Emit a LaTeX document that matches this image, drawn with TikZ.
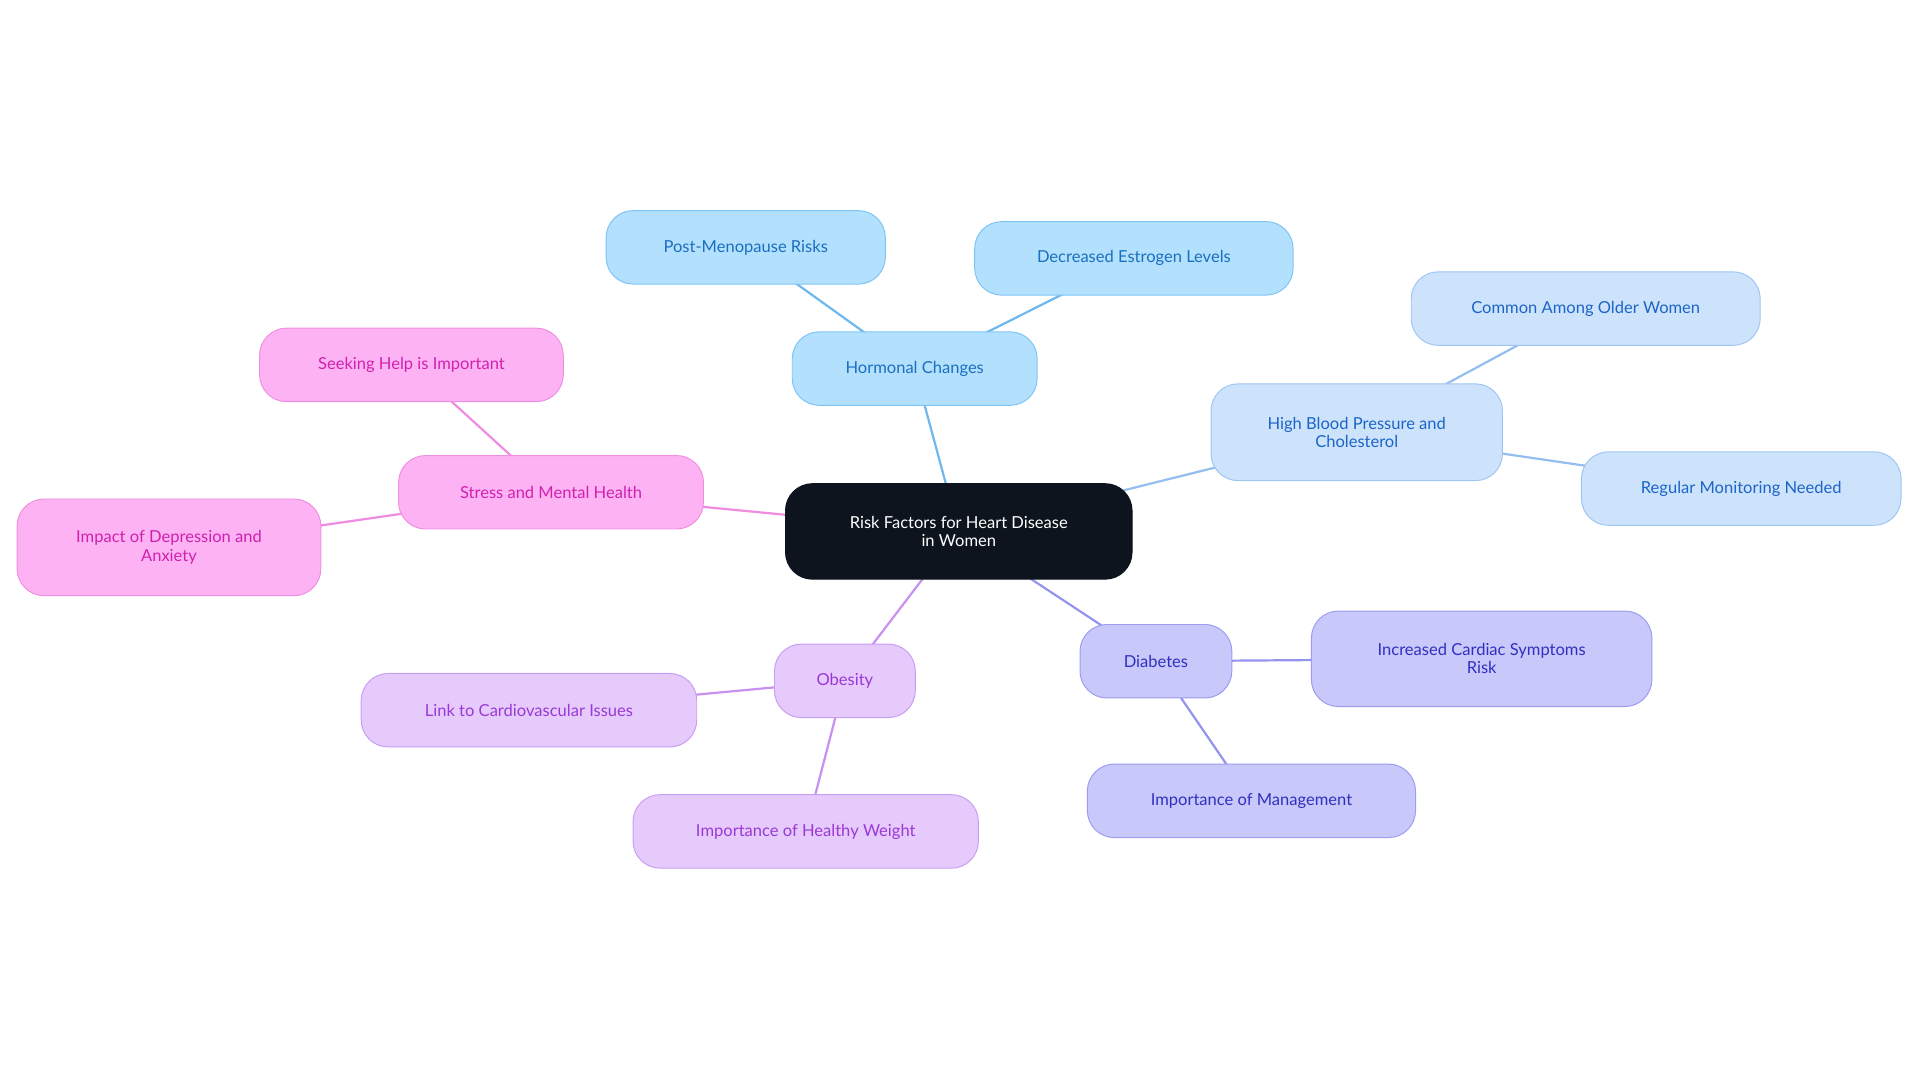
\documentclass[tikz,border=0pt]{standalone}
\usepackage{fontspec}
\setmainfont{Lato}
\usetikzlibrary{backgrounds}
\definecolor{hF}{HTML}{B3E0FD}\definecolor{hD}{HTML}{7EC4F5}\definecolor{hT}{HTML}{1A6FC0}\definecolor{hE}{HTML}{6CB8EF}
\definecolor{bF}{HTML}{CCE3FB}\definecolor{bD}{HTML}{9EC6F2}\definecolor{bT}{HTML}{1D64C8}\definecolor{bE}{HTML}{94BEF0}
\definecolor{dF}{HTML}{C8C8FB}\definecolor{dD}{HTML}{9C9CF0}\definecolor{dT}{HTML}{3030C0}\definecolor{dE}{HTML}{9494F0}
\definecolor{oF}{HTML}{E6CAFC}\definecolor{oD}{HTML}{C89EF2}\definecolor{oT}{HTML}{9A38D6}\definecolor{oE}{HTML}{C890F0}
\definecolor{sF}{HTML}{FDB3F3}\definecolor{sD}{HTML}{F08FE0}\definecolor{sT}{HTML}{D020B0}\definecolor{sE}{HTML}{F08CE0}
\definecolor{cF}{HTML}{0D141E}
\tikzset{
 box/.style={rectangle,rounded corners=22pt,line width=0.8pt,align=center,font=\fontsize{13.5}{15}\selectfont,inner sep=0pt,minimum height=60pt},
 hb/.style={box,fill=hF,draw=hD,text=hT},
 bb/.style={box,fill=bF,draw=bD,text=bT},
 db/.style={box,fill=dF,draw=dD,text=dT},
 ob/.style={box,fill=oF,draw=oD,text=oT},
 sb/.style={box,fill=sF,draw=sD,text=sT},
 ed/.style={line width=1.8pt}
}
\begin{document}
\begin{tikzpicture}[x=1pt,y=-1pt]
\useasboundingbox (0,0) rectangle (1568,884);
\node[box,fill=cF,draw=cF,text=white,minimum width=283pt,minimum height=78pt] (c) at (783,434) {Risk Factors for Heart Disease\\in Women};
\node[hb,minimum width=200pt] (h) at (747,301) {Hormonal Changes};
\node[hb,minimum width=228pt] (h1) at (609,202) {Post-Menopause Risks};
\node[hb,minimum width=260pt] (h2) at (926,211) {Decreased Estrogen Levels};
\node[bb,minimum width=238pt,minimum height=79pt] (b) at (1108,353) {High Blood Pressure and\\Cholesterol};
\node[bb,minimum width=285pt] (b1) at (1295,252) {Common Among Older Women};
\node[bb,minimum width=261pt] (b2) at (1422,399) {Regular Monitoring Needed};
\node[db,minimum width=124pt] (d) at (944,540) {Diabetes};
\node[db,minimum width=278pt,minimum height=78pt] (d1) at (1210,538) {Increased Cardiac Symptoms\\Risk};
\node[db,minimum width=268pt] (d2) at (1022,654) {Importance of Management};
\node[ob,minimum width=115pt] (o) at (690,556) {Obesity};
\node[ob,minimum width=274pt] (o1) at (432,580) {Link to Cardiovascular Issues};
\node[ob,minimum width=282pt] (o2) at (658,679) {Importance of Healthy Weight};
\node[sb,minimum width=249pt] (s) at (450,402) {Stress and Mental Health};
\node[sb,minimum width=248pt] (s1) at (336,298) {Seeking Help is Important};
\node[sb,minimum width=248pt,minimum height=79pt] (s2) at (138,447) {Impact of Depression and\\Anxiety};
\begin{scope}[on background layer]
\draw[ed,hE] (c.center) -- (h.center) (h.center) -- (h1.center) (h.center) -- (h2.center);
\draw[ed,bE] (c.center) -- (b.center) (b.center) -- (b1.center) (b.center) -- (b2.center);
\draw[ed,dE] (c.center) -- (d.center) (d.center) -- (d1.center) (d.center) -- (d2.center);
\draw[ed,oE] (c.center) -- (o.center) (o.center) -- (o1.center) (o.center) -- (o2.center);
\draw[ed,sE] (c.center) -- (s.center) (s.center) -- (s1.center) (s.center) -- (s2.center);
\end{scope}
\end{tikzpicture}
\end{document}
